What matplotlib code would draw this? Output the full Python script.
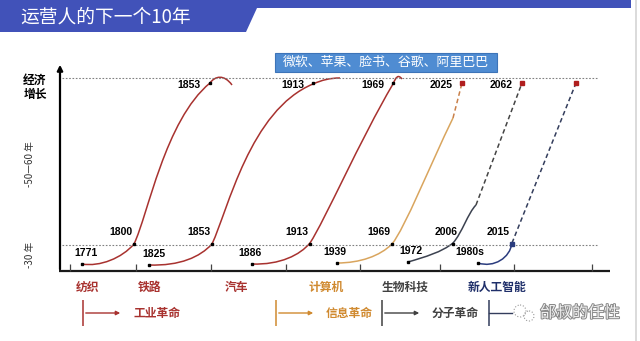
import matplotlib
matplotlib.use("Agg")
import matplotlib.pyplot as plt
from matplotlib.path import Path
from matplotlib.patches import PathPatch, Polygon, Rectangle, Circle
import matplotlib.patheffects as pe

CJK = ['Noto Sans CJK SC', 'DejaVu Sans']
NUM = ['Liberation Sans', 'DejaVu Sans']

# --- data (diagram units: 640 x 341 canvas) ---
title = "运营人的下一个10年"
giants = "微软、苹果、脸书、谷歌、阿里巴巴"
industries = ["纺织", "铁路", "汽车", "计算机", "生物科技", "新人工智能"]
industry_x = [88, 150, 236, 326, 405, 497]
revolutions = ["工业革命", "信息革命", "分子革命"]
rev_x = [83, 276, 382]
start_years = ["1771", "1825", "1886", "1939", "1972", "1980s"]
mid_years = ["1800", "1853", "1913", "1969", "2006", "2015"]
top_years = ["1853", "1913", "1969", "2025", "2062", ""]
start_x = [82, 149, 252, 337, 408, 478]
start_y = [264, 265, 264, 263, 262, 263]
mid_x = [134, 212, 310, 392, 453, 512]
top_x = [210, 313, 393, 462, 522, 576]
tick_x = [70, 136, 211, 286, 360, 440, 514, 592]
top_line, base_line = 78, 245
mid_y, top_y = 244, 83

red = '#A8322F'
gold = '#D9A55E'
slate = '#3C4250'
navy = '#2B3C7E'
curve_colors = [red, red, red, gold, slate, navy]
dash_colors = [None, None, None, '#C9804A', '#444444', '#333D5C']
label_colors = [red, red, red, '#D08A30', '#404040', '#1F2F6A']
rev_colors = [red, '#D08A30', '#404040']

fig = plt.figure(figsize=(6.4, 3.41), dpi=100)
ax = fig.add_axes([0, 0, 1, 1])
ax.set_xlim(0, 640)
ax.set_ylim(341, 0)
ax.axis('off')

# header band
ax.add_patch(Polygon([(0, 0), (631, 0), (631, 8), (257, 8), (246, 32), (0, 32)],
                     closed=True, color='#4152B9', lw=0))
ax.text(20, 17, title, color='white', fontsize=13.5, family=CJK, va='center')
ax.vlines(636, 0, 341, color='#d4d4d4', lw=1.2)

# company box
ax.add_patch(Rectangle((275, 53), 222, 19, fc='#4F8CD2', ec='#3D74B8', lw=0.8))
ax.text(386, 62.5, giants, color='white', fontsize=9.3, family=CJK, ha='center', va='center')

# axes
ax.annotate('', xy=(60, 62), xytext=(60, 272),
            arrowprops=dict(arrowstyle='-|>', lw=1.6, color='black', mutation_scale=8))
ax.plot([59, 610], [271, 271], color='#1a1a1a', lw=1.6, solid_capstyle='butt')
ax.vlines(tick_x, 264, 271, color='#444', lw=0.9)
ax.hlines([top_line, base_line], 62, 597, colors='#808080', linestyles=(0, (1.5, 1.5)), lw=0.8)

ax.text(35, 87, "经济\n增长", fontsize=8.5, family=CJK, weight='bold', ha='center',
        va='center', linespacing=1.1)
ax.text(30, 164, "-50—60 年", fontsize=7, family=CJK, rotation=90, ha='center', va='center',
        color='#333')
ax.text(30, 255, "-30 年", fontsize=7, family=CJK, rotation=90, ha='center', va='center',
        color='#333')

# S-curves (cubic bezier segments)
M, C, L = Path.MOVETO, Path.CURVE4, Path.LINETO
solid_paths = [
    [(82, 264), (100, 267), (122, 258), (134, 244), (148, 215), (165, 120), (210, 83),
     (215, 76), (224, 74), (232, 85)],
    [(149, 265), (180, 266), (200, 257), (212, 244), (228, 210), (250, 110), (313, 84),
     (322, 80), (330, 78), (340, 78)],
    [(252, 264), (280, 265), (300, 255), (310, 243), (325, 220), (360, 140), (393, 84),
     (396, 77), (398, 74), (402, 79)],
    [(337, 263), (360, 263), (380, 256), (392, 244), (405, 228), (430, 165), (453, 118)],
    [(408, 262), (425, 257), (442, 252), (453, 243), (462, 233), (468, 213), (476, 205)],
    [(478, 263), (494, 268), (510, 258), (512, 243)],
]
for verts, col in zip(solid_paths, curve_colors):
    codes = [M] + [C] * (len(verts) - 1)
    ax.add_patch(PathPatch(Path(verts, codes), fill=False, ec=col, lw=1.1))

for i in range(3, 6):
    x0, y0 = solid_paths[i][-1]
    ax.plot([x0, top_x[i]], [y0, top_y], color=dash_colors[i], lw=1.1, ls=(0, (3, 2)))

# points
ax.plot(start_x, start_y, 's', ms=2.0, color='black')
ax.plot(mid_x[:5], [mid_y] * 5, 's', ms=2.0, color='black')
ax.plot(mid_x[5], mid_y, 's', ms=2.2, color=navy)
ax.plot(top_x[:3], [top_y] * 3, 's', ms=2.0, color='black')
ax.plot(top_x[3:], [top_y] * 3, 's', ms=2.2, color='#B01E1E')

# year labels
start_dx = [4, 5, -2, -2, 3, -8]
for x, dx, y, t in zip(start_x, start_dx, start_y, start_years):
    ax.text(x + dx, y - 11, t, fontsize=7.5, family=NUM, weight='bold', ha='center', va='center')
for x, t in zip(mid_x, mid_years):
    xx = x + 5 if t == "2006" else x - 2
    ax.text(xx, mid_y - 12, t, fontsize=7.5, family=NUM, weight='bold', ha='right', va='center')
for x, t in zip(top_x, top_years):
    ax.text(x - 9, top_y + 2.5, t, fontsize=7.5, family=NUM, weight='bold', ha='right', va='center')

# industry labels
for x, t, col in zip(industry_x, industries, label_colors):
    ax.text(x, 287, t, fontsize=8.5, family=CJK, weight='bold', color=col, ha='center', va='center')

# revolution arrows
for x, t, col in zip(rev_x, revolutions, rev_colors):
    ax.vlines(x, 300, 326, color=col, lw=1.1)
    ax.annotate('', xy=(x + 40, 313), xytext=(x, 313),
                arrowprops=dict(arrowstyle='-|>', lw=1.0, color=col, mutation_scale=6))
    ax.text(x + 50, 313, t, fontsize=8.5, family=CJK, weight='bold', color=col, va='center')
ax.vlines(489, 300, 326, color='#333D5C', lw=1.1)
ax.plot([489, 512], [313, 313], color='#333D5C', lw=1.0)

# watermark
ax.add_patch(Circle((520, 311), 6, fill=False, ec='#999', lw=0.8, ls=':'))
ax.add_patch(Circle((529, 316), 5, fill=False, ec='#999', lw=0.8, ls=':'))
ax.text(540, 313, "邰叔的任性", fontsize=11.5, family=CJK, color='#eeeeee', va='center',
        path_effects=[pe.Stroke(linewidth=1.4, foreground='#888'), pe.Normal()])

fig.savefig("out.png", dpi=100)
